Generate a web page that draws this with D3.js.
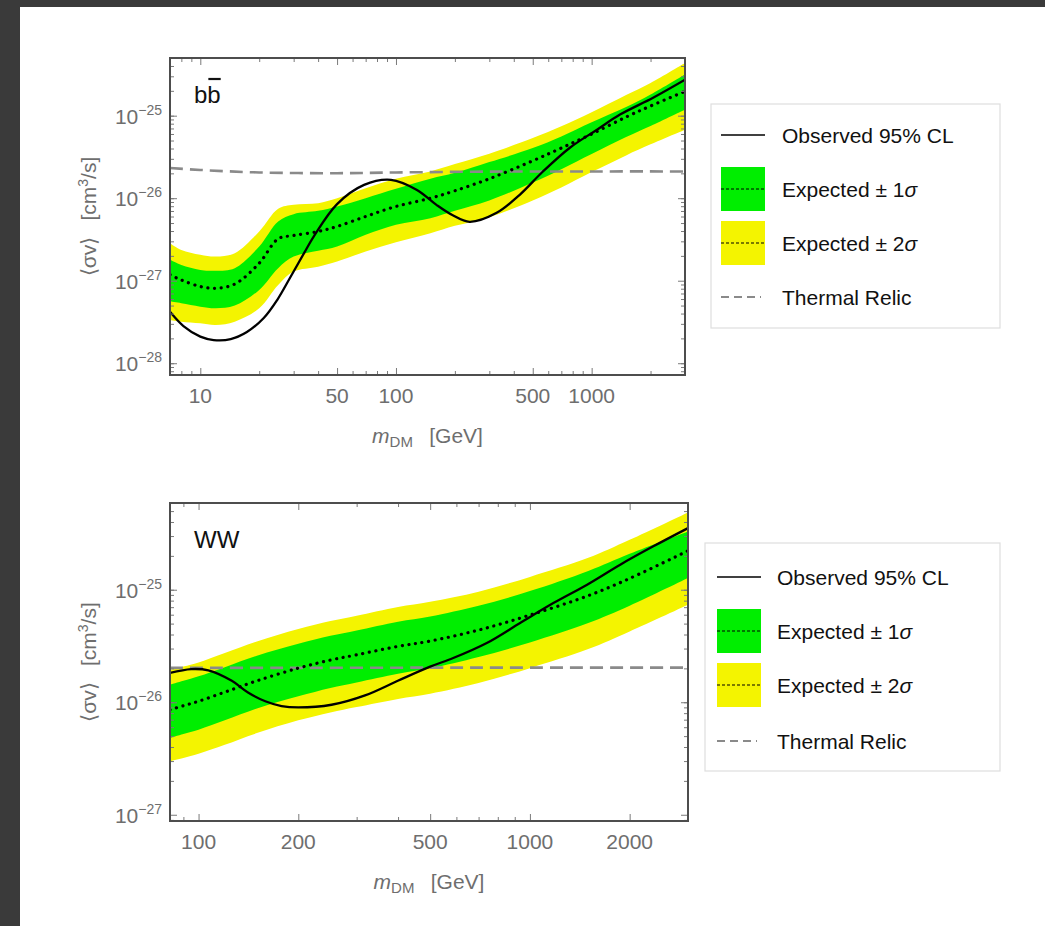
<!DOCTYPE html>
<html>
<head>
<meta charset="utf-8">
<script src="https://cdn.jsdelivr.net/npm/d3@7"></script>
<style>
  body { margin: 0; background: #3a3a3a; }
  svg { display: block; font-family: "Liberation Sans", Arial, Helvetica, sans-serif; }
</style>
</head>
<body>
<svg id="chart" width="1045" height="926"></svg>
<script>
// ---- b b-bar channel ----
const bbMass      = [7, 8, 10, 12, 15, 20, 25, 30, 40, 50, 70, 100, 150, 200, 300, 500, 700, 1000, 1500, 2000, 3000];
const bbExpected  = [1.18e-27, 1.02e-27, 8.5e-28, 8.1e-28, 9.1e-28, 1.63e-27, 3.22e-27, 3.53e-27, 3.95e-27, 4.54e-27, 6.0e-27, 7.94e-27, 1.0e-26, 1.23e-26, 1.72e-26, 2.84e-26, 4.05e-26, 5.99e-26, 9.63e-26, 1.31e-25, 1.97e-25];
const bbUp1       = [1.79e-27, 1.55e-27, 1.35e-27, 1.32e-27, 1.42e-27, 2.6e-27, 5.22e-27, 6.41e-27, 7.03e-27, 7.94e-27, 1.0e-26, 1.3e-26, 1.72e-26, 2.03e-26, 2.74e-26, 4.05e-26, 5.61e-26, 8.3e-26, 1.27e-25, 1.8e-25, 3.15e-25];
const bbLo1       = [5.58e-28, 5.33e-28, 4.85e-28, 4.63e-28, 4.99e-28, 7.73e-28, 1.42e-27, 1.96e-27, 2.3e-27, 2.6e-27, 3.6e-27, 4.75e-27, 5.73e-27, 7.03e-27, 9.38e-27, 1.55e-26, 2.25e-26, 3.43e-26, 5.51e-26, 7.5e-26, 1.18e-25];
const bbUp2       = [2.85e-27, 2.36e-27, 2.06e-27, 1.96e-27, 2.15e-27, 3.95e-27, 7.44e-27, 8.31e-27, 8.71e-27, 1.0e-26, 1.32e-26, 1.72e-26, 2.11e-26, 2.59e-26, 3.46e-26, 5.36e-26, 7.43e-26, 1.1e-25, 1.78e-25, 2.49e-25, 4.35e-25];
const bbLo2       = [3.34e-28, 3.19e-28, 3.05e-28, 2.91e-28, 3.19e-28, 4.63e-28, 8.89e-28, 1.29e-27, 1.48e-27, 1.71e-27, 2.26e-27, 2.93e-27, 3.77e-27, 4.62e-27, 5.89e-27, 9.38e-27, 1.35e-26, 2.07e-26, 3.3e-26, 4.49e-26, 6.76e-26];
const bbObsMass   = [7, 8.2, 10, 11.7, 14.3, 17.3, 21.1, 24.7, 28.9, 33.9, 38.1, 50, 68.7, 94.2, 128, 161, 194, 238, 327, 429, 562, 774, 1065, 1396, 2061, 3000];
const bbObserved  = [4.2e-28, 2.82e-28, 2.1e-28, 1.91e-28, 1.96e-28, 2.39e-28, 3.53e-28, 5.83e-28, 1.11e-27, 2.16e-27, 3.48e-27, 8.49e-27, 1.45e-26, 1.67e-26, 1.26e-26, 8.3e-27, 6.25e-27, 5.17e-27, 6.65e-27, 1.1e-26, 2.09e-26, 4.09e-26, 6.76e-26, 1.03e-25, 1.65e-25, 2.73e-25];
const bbRelicMass = [7, 10, 20, 50, 100, 300, 1000, 3000];
const bbRelic     = [2.32e-26, 2.2e-26, 2.05e-26, 2.01e-26, 2.05e-26, 2.1e-26, 2.11e-26, 2.11e-26];
const bbXTicks    = [10, 50, 100, 500, 1000];
const bbYTicks    = [1e-28, 1e-27, 1e-26, 1e-25];

// ---- W W channel ----
const wwMass      = [82, 90, 100, 120, 150, 200, 250, 300, 400, 500, 700, 1000, 1500, 2000, 3000];
const wwExpected  = [8.58e-27, 9.31e-27, 1.02e-26, 1.23e-26, 1.55e-26, 2.01e-26, 2.37e-26, 2.64e-26, 3.14e-26, 3.5e-26, 4.38e-26, 5.95e-26, 8.85e-26, 1.26e-25, 2.22e-25];
const wwUp1       = [1.43e-26, 1.55e-26, 1.7e-26, 2.05e-26, 2.59e-26, 3.31e-26, 3.9e-26, 4.35e-26, 5.2e-26, 5.79e-26, 7.21e-26, 9.73e-26, 1.47e-25, 2.09e-25, 3.3e-25];
const wwLo1       = [4.8e-27, 5.21e-27, 5.7e-27, 6.9e-27, 8.81e-27, 1.13e-26, 1.34e-26, 1.5e-26, 1.79e-26, 2.0e-26, 2.52e-26, 3.4e-26, 5.06e-26, 7.21e-26, 1.27e-25];
const wwUp2       = [1.94e-26, 2.08e-26, 2.26e-26, 2.74e-26, 3.47e-26, 4.47e-26, 5.26e-26, 5.87e-26, 7.02e-26, 7.82e-26, 9.6e-26, 1.3e-25, 1.92e-25, 2.78e-25, 4.87e-25];
const wwLo2       = [2.98e-27, 3.19e-27, 3.48e-27, 4.19e-27, 5.32e-27, 6.9e-27, 8.12e-27, 9.06e-27, 1.07e-26, 1.19e-26, 1.48e-26, 2.01e-26, 2.97e-26, 4.26e-26, 7.36e-26];
const wwObsMass   = [82, 95, 107, 126, 141, 159, 178, 200, 252, 318, 401, 500, 587, 741, 934, 1177, 1488, 1873, 2357, 3000];
const wwObserved  = [1.82e-26, 1.97e-26, 1.92e-26, 1.55e-26, 1.22e-26, 1.02e-26, 9.25e-27, 9.0e-27, 9.5e-27, 1.15e-26, 1.56e-26, 2.07e-26, 2.47e-26, 3.36e-26, 5.06e-26, 7.61e-26, 1.11e-25, 1.67e-25, 2.43e-25, 3.53e-25];
const wwRelicMass = [82, 200, 500, 1000, 3000];
const wwRelic     = [2.02e-26, 2.02e-26, 2.03e-26, 2.03e-26, 2.03e-26];
const wwXTicks    = [100, 200, 500, 1000, 2000];
const wwYTicks    = [1e-27, 1e-26, 1e-25];

const legendLabels = ["Observed 95% CL", "Expected \u00b1 1", "Expected \u00b1 2", "Thermal Relic"];

const GREEN = "#00ee00", YELLOW = "#f4f400", RELIC = "#8a8a8a", AXIS = "#6e6e6e";

const svg = d3.select("#chart");

// dark slate background + white sheet
svg.append("rect").attr("width", 1045).attr("height", 926).attr("fill", "#3a3a3a");
svg.append("rect").attr("x", 20).attr("y", 7).attr("width", 1025).attr("height", 919).attr("fill", "#fff");

function drawPanel(p) {
  const x = d3.scaleLog().domain(p.xDomain).range([p.left, p.right]);
  const y = d3.scaleLog().domain(p.yDomain).range([p.bottom, p.top]);
  const g = svg.append("g");

  g.append("clipPath").attr("id", "clip-" + p.name)
    .append("rect")
    .attr("x", p.left).attr("y", p.top)
    .attr("width", p.right - p.left).attr("height", p.bottom - p.top);

  const plot = g.append("g").attr("clip-path", `url(#clip-${p.name})`);

  const band = (lo, hi) => d3.area()
    .x(d => x(d[0])).y0(d => y(d[1])).y1(d => y(d[2]))
    .curve(d3.curveCatmullRom)(d3.zip(p.mass, lo, hi));
  const line = (ms, vs) => d3.line()
    .x(d => x(d[0])).y(d => y(d[1]))
    .curve(d3.curveCatmullRom)(d3.zip(ms, vs));

  plot.append("path").attr("d", band(p.lo2, p.up2)).attr("fill", YELLOW);
  plot.append("path").attr("d", band(p.lo1, p.up1)).attr("fill", GREEN);

  plot.append("path").attr("d", line(p.relicMass, p.relic))
    .attr("fill", "none").attr("stroke", RELIC).attr("stroke-width", 2.6)
    .attr("stroke-dasharray", "13,7");

  plot.append("path").attr("d", line(p.mass, p.expected))
    .attr("fill", "none").attr("stroke", "#000").attr("stroke-width", 3.2)
    .attr("stroke-linecap", "round").attr("stroke-dasharray", "0.1,6.6");

  plot.append("path").attr("d", line(p.obsMass, p.observed))
    .attr("fill", "none").attr("stroke", "#000").attr("stroke-width", 2.3);

  // inward ticks on all four sides
  const xMinor = x.ticks().filter(v => !p.xTicks.includes(v));
  const yMinor = y.ticks().filter(v => !p.yTicks.includes(v));
  const ticks = (axis, pos, vals, size) => {
    g.append("g").attr("transform", pos)
      .call(axis.tickValues(vals).tickSize(-size).tickFormat(""))
      .call(s => s.select(".domain").remove())
      .call(s => s.selectAll("line").attr("stroke", "#7a7a7a").attr("stroke-width", 1));
  };
  [[p.xTicks, 7], [xMinor, 4]].forEach(([v, s]) => {
    ticks(d3.axisBottom(x), `translate(0,${p.bottom})`, v, s);
    ticks(d3.axisTop(x), `translate(0,${p.top})`, v, s);
  });
  [[p.yTicks, 7], [yMinor, 4]].forEach(([v, s]) => {
    ticks(d3.axisLeft(y), `translate(${p.left},0)`, v, s);
    ticks(d3.axisRight(y), `translate(${p.right},0)`, v, s);
  });

  g.append("rect")
    .attr("x", p.left).attr("y", p.top)
    .attr("width", p.right - p.left).attr("height", p.bottom - p.top)
    .attr("fill", "none").attr("stroke", "#4d4d4d").attr("stroke-width", 2);

  // tick labels
  g.selectAll(".xl").data(p.xTicks).join("text")
    .attr("x", d => x(d)).attr("y", p.bottom + 28)
    .attr("text-anchor", "middle").attr("font-size", 21).attr("fill", AXIS)
    .text(d => d);

  g.selectAll(".yl").data(p.yTicks).join("text")
    .attr("x", p.left - 8).attr("y", d => y(d) + 8)
    .attr("text-anchor", "end").attr("font-size", 21).attr("fill", AXIS)
    .each(function(d) {
      const t = d3.select(this);
      t.append("tspan").text("10");
      t.append("tspan").attr("dy", -9).attr("font-size", 14)
        .text("\u2212" + Math.round(-Math.log10(d)));
    });

  // axis titles
  const xt = g.append("text")
    .attr("x", (p.left + p.right) / 2).attr("y", p.bottom + 68)
    .attr("text-anchor", "middle").attr("font-size", 21).attr("fill", AXIS);
  xt.append("tspan").attr("font-style", "italic").text("m");
  xt.append("tspan").attr("font-size", 15).attr("dy", 4).text("DM");
  xt.append("tspan").attr("dy", -4).text("\u2002 [GeV]");

  const cy = (p.top + p.bottom) / 2;
  const yt = g.append("text")
    .attr("transform", `translate(96,${cy}) rotate(-90)`)
    .attr("text-anchor", "middle").attr("font-size", 21).attr("fill", AXIS);
  yt.append("tspan").text("\u27e8\u03c3v\u27e9\u2002 [cm");
  yt.append("tspan").attr("font-size", 14).attr("dy", -8).text("3");
  yt.append("tspan").attr("dy", 8).text("/s]");

  // channel tag
  const tag = g.append("text")
    .attr("x", p.left + 24).attr("y", p.top + 45)
    .attr("font-size", 24).attr("fill", "#111")
    .text(p.tag);
  if (p.bar) {
    const w = tag.node().getComputedTextLength() / 2;
    g.append("line")
      .attr("x1", p.left + 24 + w + 1).attr("x2", p.left + 24 + 2 * w)
      .attr("y1", p.top + 21).attr("y2", p.top + 21)
      .attr("stroke", "#111").attr("stroke-width", 2.2);
  }

  drawLegend(p.legend);
}

function drawLegend(L) {
  const g = svg.append("g");
  g.append("rect").attr("x", L.x).attr("y", L.y).attr("width", L.w).attr("height", L.h)
    .attr("fill", "#fff").attr("stroke", "#dedede").attr("stroke-width", 1.2);
  const sx0 = L.sx, sx1 = L.sx + 44;
  legendLabels.forEach((lab, i) => {
    const cy = L.rows[i];
    if (i === 0) {
      g.append("line").attr("x1", sx0).attr("x2", sx1).attr("y1", cy).attr("y2", cy)
        .attr("stroke", "#000").attr("stroke-width", 1.5);
    } else if (i === 3) {
      g.append("line").attr("x1", sx0).attr("x2", sx1 - 4).attr("y1", cy).attr("y2", cy)
        .attr("stroke", RELIC).attr("stroke-width", 2).attr("stroke-dasharray", "8,5");
    } else {
      g.append("rect").attr("x", sx0).attr("y", cy - 22).attr("width", 44).attr("height", 44)
        .attr("fill", i === 1 ? GREEN : YELLOW);
      g.append("line").attr("x1", sx0).attr("x2", sx1).attr("y1", cy).attr("y2", cy)
        .attr("stroke", "#000").attr("stroke-width", 1.2).attr("stroke-dasharray", "3,2");
    }
    const t = g.append("text").attr("x", L.tx).attr("y", cy + 8)
      .attr("font-size", 21).attr("fill", "#111").text(lab);
    if (i === 1 || i === 2) t.append("tspan").attr("font-style", "italic").text("\u03c3");
  });
}

drawPanel({
  name: "bb", tag: "bb", bar: true,
  xDomain: [7, 3000], yDomain: [7.2e-29, 5.0e-25],
  left: 170, right: 685, top: 58, bottom: 375,
  mass: bbMass, expected: bbExpected, up1: bbUp1, lo1: bbLo1, up2: bbUp2, lo2: bbLo2,
  obsMass: bbObsMass, observed: bbObserved, relicMass: bbRelicMass, relic: bbRelic,
  xTicks: bbXTicks, yTicks: bbYTicks,
  legend: { x: 711, y: 104, w: 289, h: 224, sx: 721, tx: 782, rows: [135, 189, 243, 297] }
});

drawPanel({
  name: "ww", tag: "WW", bar: false,
  xDomain: [82, 3000], yDomain: [8.8e-28, 5.9e-25],
  left: 170, right: 688, top: 503, bottom: 821,
  mass: wwMass, expected: wwExpected, up1: wwUp1, lo1: wwLo1, up2: wwUp2, lo2: wwLo2,
  obsMass: wwObsMass, observed: wwObserved, relicMass: wwRelicMass, relic: wwRelic,
  xTicks: wwXTicks, yTicks: wwYTicks,
  legend: { x: 705, y: 543, w: 295, h: 228, sx: 717, tx: 777, rows: [577, 631, 685, 741] }
});
</script>
</body>
</html>
